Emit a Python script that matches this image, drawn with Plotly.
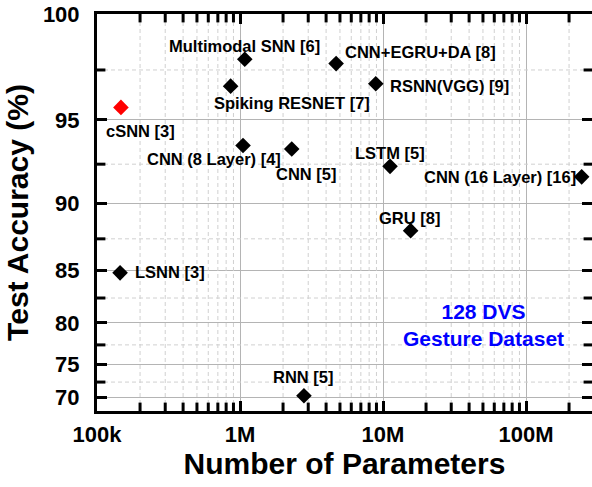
import numpy as np
import plotly.graph_objects as go

# ---- data ----
models = ["cSNN [3]", "LSNN [3]", "Multimodal SNN [6]", "CNN+EGRU+DA [8]",
          "Spiking RESNET [7]", "RSNN(VGG) [9]", "CNN (8 Layer) [4]", "CNN [5]",
          "LSTM [5]", "CNN (16 Layer) [16]", "GRU [8]", "RNN [5]"]
params = [1.47e5, 1.45e5, 1.08e6, 4.7e6, 8.6e5, 8.9e6, 1.05e6, 2.3e6,
          1.12e7, 2.45e8, 1.56e7, 2.8e6]
accuracy = [95.65, 84.77, 98.0, 97.8, 96.72, 96.84, 93.59, 93.39,
            92.37, 91.73, 88.11, 70.33]
is_ours = [True] + [False] * 11

y_major = [70, 75, 80, 85, 90, 95, 100]
y_minor = [72.5, 77.5, 82.5, 87.5, 92.5, 97.5]
x_major = [1e5, 1e6, 1e7, 1e8]
x_major_text = ["100k", "1M", "10M", "100M"]
x_minor = [m * d for d in (1e5, 1e6, 1e7, 1e8) for m in range(2, 10)]

# ---- custom (exponential) accuracy scale ----
K = 0.0465
def yscale(v):
    return np.exp(K * (np.asarray(v, dtype=float) - 70.0))

FONT = "Arial, Liberation Sans, Helvetica, sans-serif"
XR = [5, 8.4615]
YR = [float(yscale(67.6)), float(yscale(100))]
XLO, XHI = 10 ** XR[0], 10 ** XR[1]
x_minor = [v for v in x_minor if XR[0] < np.log10(v) < XR[1]]
y_minor_t = [float(v) for v in yscale(y_minor)]

label_style = {
    "cSNN [3]": ("center", 20, -24),
    "LSNN [3]": ("left", 13, 1),
    "Multimodal SNN [6]": ("center", 0, 13),
    "CNN+EGRU+DA [8]": ("left", 7, 12),
    "Spiking RESNET [7]": ("center", 61, -17),
    "RSNN(VGG) [9]": ("left", 12, -2),
    "CNN (8 Layer) [4]": ("center", -29, -14),
    "CNN [5]": ("center", 15, -25),
    "LSTM [5]": ("center", 0, 13),
    "CNN (16 Layer) [16]": ("right", -4, 0),
    "GRU [8]": ("center", -1, 13),
    "RNN [5]": ("center", 0, 19),
}

fig = go.Figure()

# minor grid (dashed) built from the minor tick arrays
gx, gy = [], []
for v in x_minor:
    gx += [v, v, None]
    gy += [YR[0], YR[1], None]
for v in y_minor_t:
    gx += [XLO, XHI, None]
    gy += [v, v, None]
fig.add_trace(go.Scatter(x=gx, y=gy, mode="lines",
                         line=dict(color="#d0d0d0", width=1, dash="4px,3px"),
                         showlegend=False, hoverinfo="skip"))

# minor ticks (half of a line marker sitting on each frame edge, clipped inside)
tick_marker = lambda sym: dict(symbol=sym, size=12, color="black",
                               line=dict(width=3, color="black"))
fig.add_trace(go.Scatter(x=x_minor * 2, y=[YR[0]] * len(x_minor) + [YR[1]] * len(x_minor),
                         mode="markers", marker=tick_marker("line-ns"),
                         showlegend=False, hoverinfo="skip"))
fig.add_trace(go.Scatter(x=[XLO] * len(y_minor_t) + [XHI] * len(y_minor_t), y=y_minor_t * 2,
                         mode="markers", marker=tick_marker("line-ew"),
                         showlegend=False, hoverinfo="skip"))

colors = ["#ff0000" if o else "#000000" for o in is_ours]
fig.add_trace(go.Scatter(
    x=params, y=yscale(accuracy), mode="markers",
    marker=dict(symbol="diamond", size=12, color=colors, line=dict(width=0)),
    showlegend=False, hoverinfo="skip"))

for name, px, acc in zip(models, params, accuracy):
    anchor, dx, dy = label_style[name]
    fig.add_annotation(x=np.log10(px), y=float(yscale(acc)), text=name,
                       showarrow=False, xanchor=anchor, yanchor="middle",
                       xshift=dx, yshift=dy,
                       font=dict(family=FONT, size=16.5, color="black", weight="bold"))

fig.add_annotation(x=0.781, y=0.216, xref="paper", yref="paper",
                   text="128 DVS<br>Gesture Dataset", showarrow=False,
                   xanchor="center", yanchor="middle", align="center",
                   font=dict(family=FONT, size=21, color="#0000ff", weight="bold"))

tickfont = dict(family=FONT, size=22, color="black", weight="bold")
titlefont = dict(family=FONT, size=30, color="black", weight="bold")

fig.update_layout(
    width=592, height=487,
    margin=dict(l=97, r=0, t=14, b=76),
    paper_bgcolor="white", plot_bgcolor="rgba(0,0,0,0)",
    font=dict(family=FONT, color="black"),
    xaxis=dict(
        type="log", range=XR, automargin=False,
        tickmode="array", tickvals=x_major, ticktext=x_major_text,
        ticks="inside", ticklen=10, tickwidth=3, tickcolor="black",
        showline=True, linewidth=3, linecolor="black", mirror="allticks",
        showgrid=True, gridcolor="#b4b4b4", gridwidth=1,
        tickfont=tickfont, ticklabelstandoff=2,
        title=dict(text="Number of Parameters", standoff=6, font=titlefont),
        zeroline=False,
    ),
    yaxis=dict(
        range=YR, automargin=False,
        tickmode="array", tickvals=yscale(y_major).tolist(),
        ticktext=[str(v) for v in y_major],
        ticks="inside", ticklen=10, tickwidth=3, tickcolor="black",
        showline=True, linewidth=3, linecolor="black", mirror="allticks",
        showgrid=True, gridcolor="#b4b4b4", gridwidth=1,
        tickfont=tickfont, ticklabelstandoff=10,
        title=dict(text="Test Accuracy (%)", standoff=6, font=titlefont),
        zeroline=False,
    ),
)

fig.write_html("out.html", config={"displayModeBar": False},
               post_script="document.body.style.margin='0px';"
                           "document.body.style.overflow='hidden';")
